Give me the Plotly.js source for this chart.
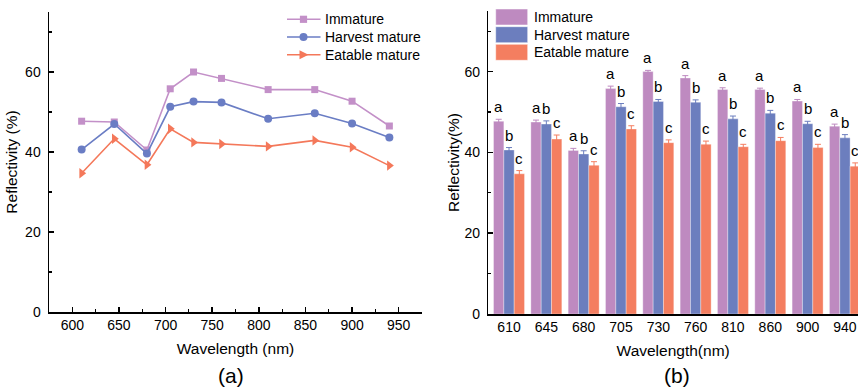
<!DOCTYPE html>
<html>
<head>
<meta charset="utf-8">
<script src="https://cdn.plot.ly/plotly-3.0.1.min.js"></script>
<style>
  html, body { margin: 0; padding: 0; background: #fff; }
  #chart { width: 858px; height: 389px; }
</style>
</head>
<body>
<div id="chart"></div>
<script>
// ---------- data ----------
const wavelengths = [610, 645, 680, 705, 730, 760, 810, 860, 900, 940];
const categories = ['610', '645', '680', '705', '730', '760', '810', '860', '900', '940'];
const seriesNames = ['Immature', 'Harvest mature', 'Eatable mature'];
const immature = [47.7, 47.5, 40.5, 55.8, 60.0, 58.4, 55.6, 55.6, 52.7, 46.5];
const harvest  = [40.6, 47.0, 39.6, 51.3, 52.6, 52.4, 48.3, 49.7, 47.1, 43.6];
const eatable  = [34.7, 43.3, 36.8, 45.8, 42.4, 42.0, 41.4, 42.9, 41.2, 36.6];
const immatureErr = [0.5, 0.5, 0.5, 0.6, 0.3, 0.6, 0.4, 0.3, 0.4, 0.5];
const harvestErr  = [0.6, 0.8, 0.8, 0.8, 0.5, 0.6, 0.7, 0.7, 0.6, 0.8];
const eatableErr  = [0.8, 1.0, 0.9, 0.8, 0.7, 0.8, 0.6, 0.8, 0.8, 0.8];
const immatureSig = ['a', 'a', 'a', 'a', 'a', 'a', 'a', 'a', 'a', 'a'];
const harvestSig  = ['b', 'b', 'b', 'b', 'b', 'b', 'b', 'b', 'b', 'b'];
const eatableSig  = ['c', 'c', 'c', 'c', 'c', 'c', 'c', 'c', 'c', 'c'];
const xTicksA = [600, 650, 700, 750, 800, 850, 900, 950];
const yTicks = [0, 20, 40, 60];

// ---------- styles ----------
const FONT = 'Liberation Sans, Arial, sans-serif';
const lineColors = ['#C390C8', '#6A7DC4', '#F4785A'];
const barColors  = ['#BE8AC0', '#6C7EBE', '#F47E60'];
const symbols = ['square', 'circle', 'triangle-right'];
const msizes = [7, 8, 9];
const W = 858, H = 389;
const X = px => px / W;
const Y = py => 1 - py / H;

const values = [immature, harvest, eatable];
const errs = [immatureErr, harvestErr, eatableErr];
const sigs = [immatureSig, harvestSig, eatableSig];

const traces = [];
// panel (a): lines
values.forEach((v, j) => {
  traces.push({
    type: 'scatter', mode: 'lines+markers', name: seriesNames[j],
    x: wavelengths, y: v, xaxis: 'x', yaxis: 'y', showlegend: false,
    line: { color: lineColors[j], width: 1.6 },
    marker: { symbol: symbols[j], size: msizes[j], color: lineColors[j] }
  });
});
// panel (b): bars
values.forEach((v, j) => {
  traces.push({
    type: 'bar', name: seriesNames[j], x: categories, y: v,
    xaxis: 'x2', yaxis: 'y2', showlegend: false,
    marker: { color: barColors[j], line: { color: 'rgba(255,255,255,0.55)', width: 0.6 } },
    error_y: { type: 'data', array: errs[j], visible: true, color: barColors[j], thickness: 1, width: 3 }
  });
});

// significance letters
const annotations = [];
const barPx = 10.33;
values.forEach((v, j) => {
  v.forEach((val, i) => {
    annotations.push({
      xref: 'x2', yref: 'y2', x: i, y: val + errs[j][i],
      text: sigs[j][i], showarrow: false, xanchor: 'center', yanchor: 'bottom',
      xshift: (j - 1) * barPx, yshift: 2,
      font: { family: FONT, size: 15, color: '#000' }
    });
  });
});

// panel labels
annotations.push({ xref: 'paper', yref: 'paper', x: X(230.7), y: Y(375), text: '(a)', showarrow: false,
  xanchor: 'center', yanchor: 'middle', font: { family: FONT, size: 21, color: '#000' } });
annotations.push({ xref: 'paper', yref: 'paper', x: X(677.3), y: Y(375), text: '(b)', showarrow: false,
  xanchor: 'center', yanchor: 'middle', font: { family: FONT, size: 21, color: '#000' } });

// custom legends
const shapes = [];
const rowsA = [19.3, 37.0, 54.7];
seriesNames.forEach((nm, j) => {
  const cy = rowsA[j], cx = 303.5;
  shapes.push({ type: 'line', xref: 'paper', yref: 'paper', x0: X(287), x1: X(320.5), y0: Y(cy), y1: Y(cy),
    line: { color: lineColors[j], width: 1.6 } });
  if (j === 0) {
    shapes.push({ type: 'rect', xref: 'paper', yref: 'paper', x0: X(cx - 3.6), x1: X(cx + 3.6), y0: Y(cy - 3.6), y1: Y(cy + 3.6),
      fillcolor: lineColors[j], line: { width: 0 } });
  } else if (j === 1) {
    shapes.push({ type: 'circle', xref: 'paper', yref: 'paper', x0: X(cx - 4), x1: X(cx + 4), y0: Y(cy - 4), y1: Y(cy + 4),
      fillcolor: lineColors[j], line: { width: 0 } });
  } else {
    shapes.push({ type: 'path', xref: 'paper', yref: 'paper',
      path: `M${X(cx - 4)},${Y(cy - 4.5)} L${X(cx + 5)},${Y(cy)} L${X(cx - 4)},${Y(cy + 4.5)} Z`,
      fillcolor: lineColors[j], line: { width: 0 } });
  }
  annotations.push({ xref: 'paper', yref: 'paper', x: X(322.5), y: Y(cy), text: nm, showarrow: false,
    xanchor: 'left', yanchor: 'middle', font: { family: FONT, size: 14, color: '#000' } });
});
const rowsB = [17, 34.7, 52.3];
seriesNames.forEach((nm, j) => {
  const cy = rowsB[j];
  shapes.push({ type: 'rect', xref: 'paper', yref: 'paper', x0: X(495.7), x1: X(527.7), y0: Y(cy - 8), y1: Y(cy + 8),
    fillcolor: barColors[j], line: { color: 'rgba(255,255,255,0.5)', width: 1 } });
  annotations.push({ xref: 'paper', yref: 'paper', x: X(531.5), y: Y(cy), text: nm, showarrow: false,
    xanchor: 'left', yanchor: 'middle', font: { family: FONT, size: 14, color: '#000' } });
});

const axisCommon = {
  showline: true, linecolor: '#000', linewidth: 1.5, showgrid: false, zeroline: false,
  tickfont: { family: FONT, size: 14, color: '#000' }, tickcolor: '#000'
};
const titleFont = { family: FONT, size: 15.5, color: '#000' };

const layout = {
  width: W, height: H,
  margin: { l: 0, r: 0, t: 0, b: 0 },
  paper_bgcolor: '#fff', plot_bgcolor: '#fff',
  font: { family: FONT, color: '#000' },
  showlegend: false,
  barmode: 'group', bargap: 0.17, bargroupgap: 0,
  xaxis: Object.assign({}, axisCommon, {
    domain: [X(49), X(422)], anchor: 'y', range: [575, 975],
    tickmode: 'array', tickvals: xTicksA, ticktext: xTicksA.map(String),
    ticks: 'inside', ticklen: 5, tickwidth: 1.5,
    minor: { ticks: 'inside', ticklen: 3, tickwidth: 1.2, dtick: 25, tick0: 575, tickcolor: '#000', showgrid: false },
    title: { text: 'Wavelength (nm)', font: titleFont, standoff: 11 }
  }),
  yaxis: Object.assign({}, axisCommon, {
    domain: [Y(312), Y(12)], anchor: 'x', range: [0, 75],
    tickmode: 'array', tickvals: yTicks, ticktext: yTicks.map(String),
    ticks: 'inside', ticklen: 5, tickwidth: 1.5, ticklabelstandoff: 4,
    minor: { ticks: 'inside', ticklen: 3, tickwidth: 1.2, dtick: 10, tick0: 0, tickcolor: '#000', showgrid: false },
    title: { text: 'Reflectivity (%)', font: titleFont, standoff: 3 }
  }),
  xaxis2: Object.assign({}, axisCommon, {
    domain: [X(488.3), 1], anchor: 'y2', type: 'category', range: [-0.555, 9.35],
    ticks: '',
    title: { text: 'Wavelength(nm)', font: titleFont, standoff: 11 }
  }),
  yaxis2: Object.assign({}, axisCommon, {
    domain: [Y(314), Y(11)], anchor: 'x2', range: [0, 75],
    tickmode: 'array', tickvals: yTicks, ticktext: yTicks.map(String),
    ticks: 'inside', ticklen: 5, tickwidth: 1.5, ticklabelstandoff: 4,
    minor: { ticks: 'inside', ticklen: 3, tickwidth: 1.2, dtick: 10, tick0: 0, tickcolor: '#000', showgrid: false },
    title: { text: 'Reflectivity(%)', font: titleFont, standoff: 1 }
  }),
  annotations: annotations,
  shapes: shapes
};

Plotly.newPlot('chart', traces, layout, { displayModeBar: false, staticPlot: true });
</script>
</body>
</html>
